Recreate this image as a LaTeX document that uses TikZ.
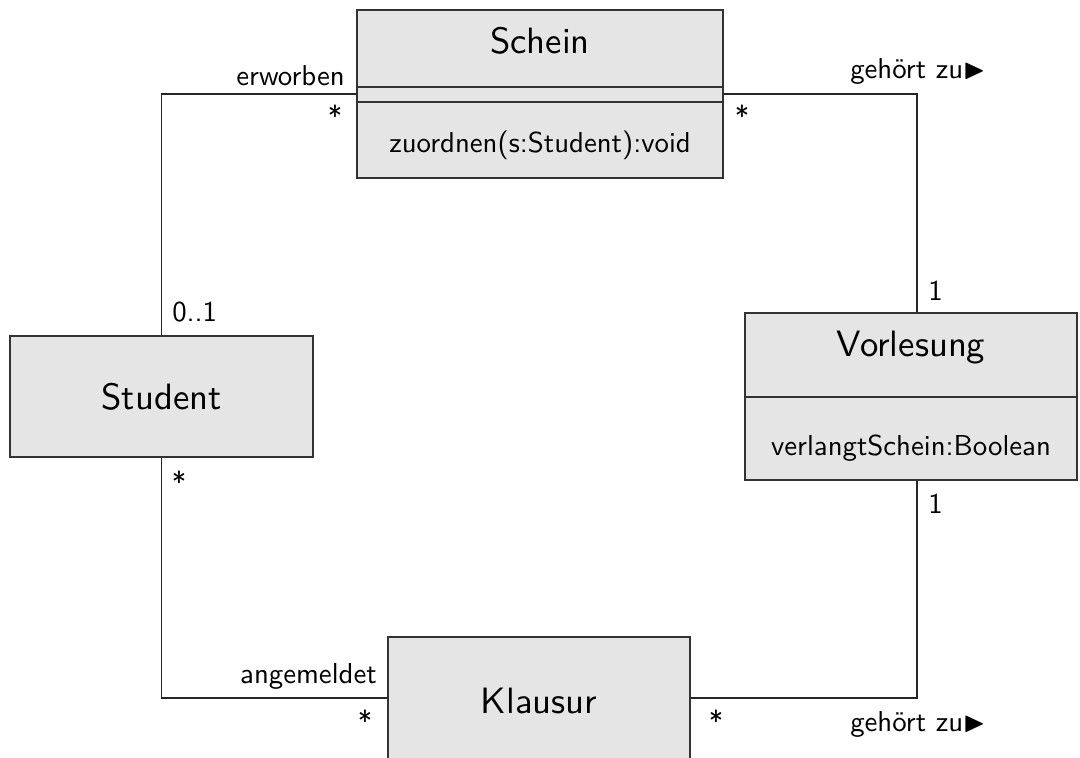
\documentclass[tikz,border=0pt]{standalone}
\usepackage{amssymb}
\usepackage{fontspec}
\newfontfamily\lmten{lmsans10-regular.otf}
\usetikzlibrary{calc}
\begin{document}
\begin{tikzpicture}[x=0.75pt,y=-0.75pt,
  cls/.style={draw=black!80, line width=0.8pt, fill=black!10, inner sep=0pt},
  conn/.style={draw=black!85, line width=0.8pt},
  lbl/.style={font=\lmten\fontsize{21.6}{25}\selectfont, inner sep=0pt},
  ttl/.style={font=\lmten\fontsize{27.5}{33}\selectfont, inner sep=0pt, anchor=base},
  mth/.style={font=\lmten\fontsize{21.6}{25}\selectfont, inner sep=0pt, anchor=base}]
\useasboundingbox (0,0) rectangle (1080,757);
% classes
\node[cls, minimum width=274.5pt, minimum height=126pt] (sch) at (540,94) {};
\node[cls, minimum width=227.25pt, minimum height=90.75pt] (stu) at (161.5,396.5) {};
\node[cls, minimum width=249pt, minimum height=125.25pt] (vor) at (911,396.5) {};
\node[cls, minimum width=226.5pt, minimum height=94.5pt] (kla) at (539,700) {};
% compartments
\draw[draw=black!80, line width=0.8pt] (sch.west |- 0,87) -- (sch.east |- 0,87);
\draw[draw=black!80, line width=0.8pt] (sch.west |- 0,102) -- (sch.east |- 0,102);
\draw[draw=black!80, line width=0.8pt] (vor.west |- 0,397) -- (vor.east |- 0,397);
% texts
\node[ttl] (tsch) at (540,53) {Schein};
\node[mth] (msch) at (540,152) {zuordnen(s:Student):void};
\node[ttl] (tstu) at (161.5,409) {Student};
\node[ttl] (tvor) at (911,356) {Vorlesung};
\node[mth] (mvor) at (911,455) {verlangtSchein:Boolean};
\node[ttl] (tkla) at (539,713) {Klausur};
% connectors
\draw[conn] (sch.west |- 0,94) -| (stu.north);
\draw[conn] (sch.east |- 0,94) -| (vor.north -| 917,0);
\draw[conn] (stu.south) |- (kla.west |- 0,698);
\draw[conn] (kla.east |- 0,698) -| (vor.south -| 917,0);
% labels
\node[lbl, anchor=base east] (l1) at (345,85) {erworben};
\node[lbl, anchor=base] (l2) at (335,126) {*};
\node[lbl, anchor=base] (l3) at (742,126) {*};
\node[lbl, anchor=base west] (l4) at (850,78) {gehört zu$\blacktriangleright$};
\node[lbl, anchor=base west] (l5) at (172,321) {0..1};
\node[lbl, anchor=base west] (l6) at (928,300) {1};
\node[lbl, anchor=base] (l7) at (179,492) {*};
\node[lbl, anchor=base west] (l8) at (928,513) {1};
\node[lbl, anchor=base east] (l9) at (377,683) {angemeldet};
\node[lbl, anchor=base] (l10) at (365,731) {*};
\node[lbl, anchor=base] (l11) at (716,731) {*};
\node[lbl, anchor=base west] (l12) at (850,731) {gehört zu$\blacktriangleright$};
\end{tikzpicture}
\end{document}
